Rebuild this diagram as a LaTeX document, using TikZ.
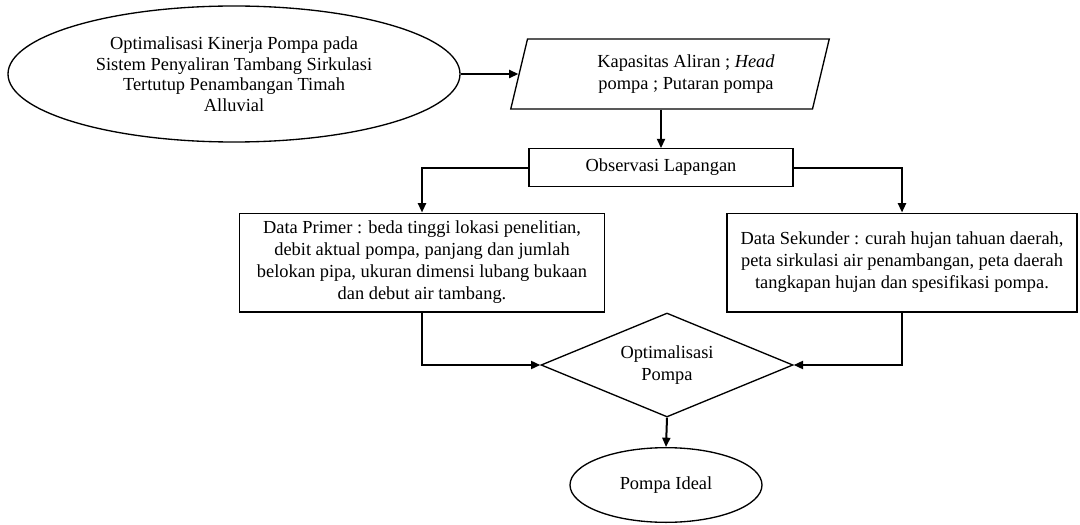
\documentclass[tikz,border=0pt]{standalone}
\usepackage{fontspec}
\setmainfont{Liberation Serif}
\usetikzlibrary{shapes.geometric,arrows.meta}
\begin{document}
\begin{tikzpicture}[x=0.75pt,y=-0.75pt,
  box/.style={draw,line width=1pt,align=center,inner sep=2pt,font=\fontsize{13.8}{16.5}\selectfont},
  arr/.style={line width=1.5pt,-{Triangle[length=7pt,width=6pt]}}]
\useasboundingbox (0,0) rectangle (1080,524);

\node[box,ellipse,minimum width=339pt,minimum height=102pt,font=\fontsize{13.8}{15.4}\selectfont] (judul) at (234,74)
  {Optimalisasi Kinerja Pompa pada\\Sistem Penyaliran Tambang Sirkulasi\\Tertutup Penambangan Timah\\Alluvial};
\node[box,trapezium,trapezium left angle=74,trapezium right angle=106,trapezium stretches=true,
  minimum width=239pt,minimum height=52.5pt] (kapasitas) at (670,74)
  {\hspace*{24pt}Kapasitas Aliran ; \textit{Head}\\\hspace*{24pt}pompa ; Putaran pompa};
\node[box,minimum width=198pt,minimum height=28pt] (observasi) at (661,167.5) {Observasi Lapangan};
\node[box,minimum width=274pt,minimum height=74pt] (primer) at (422,262.5)
  {Data Primer : beda tinggi lokasi penelitian,\\debit aktual pompa, panjang dan jumlah\\belokan pipa, ukuran dimensi lubang bukaan\\dan debut air tambang.};
\node[box,minimum width=262.5pt,minimum height=74pt] (sekunder) at (902,262.5)
  {Data Sekunder : curah hujan tahuan daerah,\\peta sirkulasi air penambangan, peta daerah\\tangkapan hujan dan spesifikasi pompa.};
\node[box,diamond,aspect=2.4,minimum width=189pt,minimum height=78pt] (optimal) at (667,365)
  {Optimalisasi\\Pompa};
\node[box,ellipse,minimum width=144pt,minimum height=56pt] (ideal) at (666,485) {Pompa Ideal};

\draw[arr] (judul.east) -- (kapasitas.left side);
\draw[arr] (kapasitas.south -| observasi.north) -- (observasi.north);
\draw[arr] (observasi.west) -| (primer.north);
\draw[arr] (observasi.east) -| (sekunder.north);
\draw[arr] (primer.south) |- (optimal.west);
\draw[arr] (sekunder.south) |- (optimal.east);
\draw[arr] (optimal.south) -- (ideal.north);
\end{tikzpicture}
\end{document}
